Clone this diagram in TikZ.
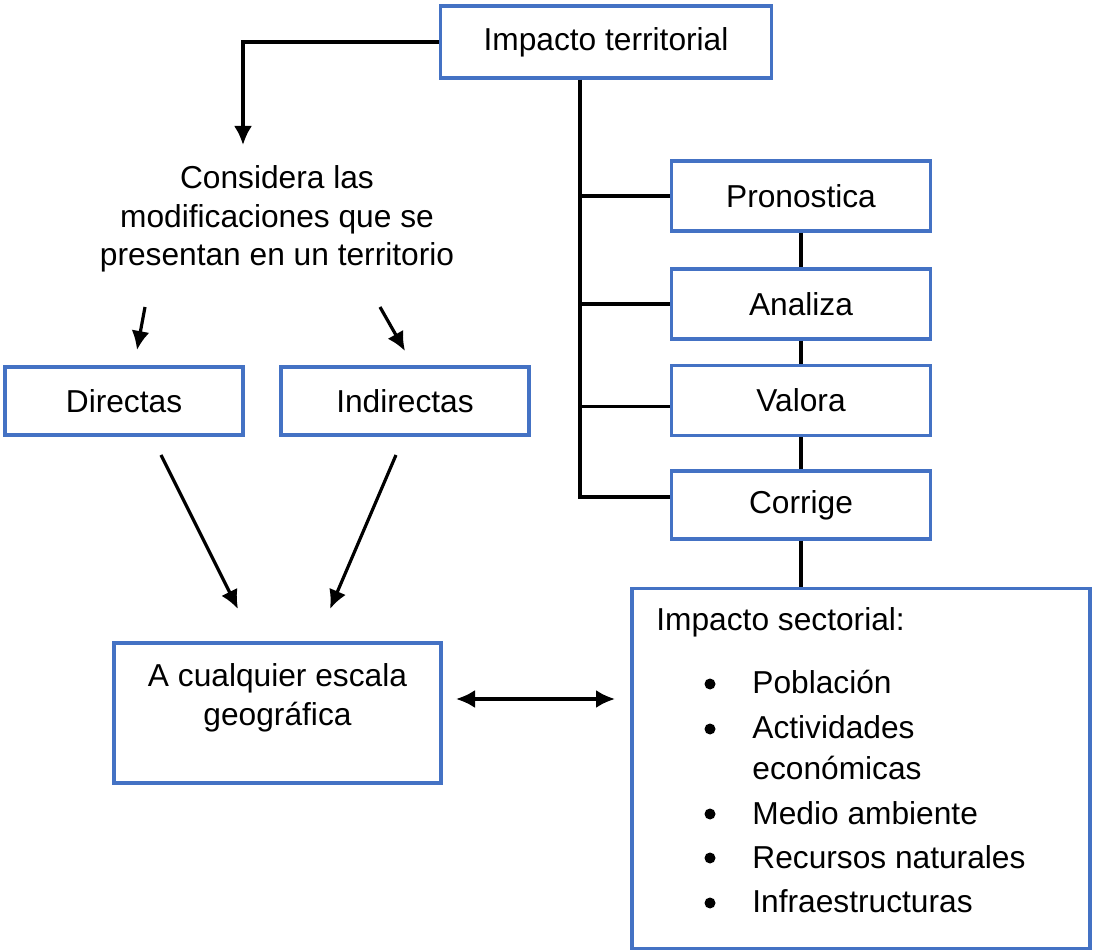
\documentclass[tikz,border=0pt]{standalone}
\usepackage{fontspec}
\setmainfont{Liberation Sans}
\usetikzlibrary{arrows.meta}
\definecolor{azulcaja}{HTML}{4472C4}

\tikzset{
  caja/.style={draw=azulcaja, line width=1.6pt, inner sep=0pt, align=center},
  flecha/.style={-{Latex[length=9.5pt,width=9pt]}, line width=1.6pt},
  dobleflecha/.style={{Latex[length=9.5pt,width=9pt]}-{Latex[length=9.5pt,width=9pt]}, line width=1.6pt},
  linea/.style={line width=1.6pt},
}

\begin{document}
\begin{tikzpicture}[x=0.5pt, y=-0.5pt, font=\fontsize{15.85}{19.3}\selectfont]
    \useasboundingbox (0,0) rectangle (1094,952);

    % caja principal
    \node[caja, minimum width=165.5pt, minimum height=36pt] (terr) at (606,42) {Impacto territorial};

    % texto central y ramas izquierdas
    \node[align=center] (consid) at (277,219) {Considera las\\modificaciones que se\\presentan en un territorio};
    \node[caja, minimum width=119pt, minimum height=34pt] (dir) at (124,401) {Directas};
    \node[caja, minimum width=124pt, minimum height=34pt] (indir) at (405,401) {Indirectas};
    \node[caja, minimum width=163.5pt, minimum height=70pt] (escala) at (277.5,713) {};
    \node[align=center] (escalatxt) at (277.5,698) {A cualquier escala\\geográfica};

    % acciones de la derecha
    \node[caja, minimum width=129.5pt, minimum height=35pt] (pron) at (801,196) {Pronostica};
    \node[caja, minimum width=129.5pt, minimum height=35pt] (anal) at (801,304) {Analiza};
    \node[caja, minimum width=129.5pt, minimum height=35pt] (valo) at (801,400.5) {Valora};
    \node[caja, minimum width=129.5pt, minimum height=34pt] (corr) at (801,505) {Corrige};
    \node[caja, minimum width=229pt, minimum height=180pt] (sect) at (861,768.5) {};

    % contenido del impacto sectorial
    \node[anchor=base west, inner sep=0pt] (secttit) at (656,631) {Impacto sectorial:};
    \foreach \yy in {684,729,814,858,903}
        \fill (710,\yy) circle (5.5);
    \foreach \txt/\yy [count=\i] in {Población/693,Actividades/738,económicas/779,Medio ambiente/824,Recursos naturales/868,Infraestructuras/912}
        \node[anchor=base west, inner sep=0pt] (item\i) at (752,\yy) {\txt};

    % puntos libres de las flechas
    \coordinate (c1) at (243,145);
    \coordinate (d0) at (145,307);
    \coordinate (d1) at (137,350);
    \coordinate (i0) at (380,307);
    \coordinate (i1) at (405,351);
    \coordinate (e0) at (161,455);
    \coordinate (e1) at (238,609);
    \coordinate (f0) at (396,455);
    \coordinate (f1) at (330,609);
    \coordinate (s0) at (456,699);
    \coordinate (s1) at (615,699);

    % flechas
    \draw[flecha] (terr.west) -| (c1);
    \draw[flecha] (d0) -- (d1);
    \draw[flecha] (i0) -- (i1);
    \draw[flecha] (e0) -- (e1);
    \draw[flecha] (f0) -- (f1);
    \draw[dobleflecha] (s0) -- (s1);

    % conectores sin punta
    \draw[linea] ([xshift=-13pt]terr.south) |- ([yshift=4pt]corr.west);
    \draw[linea] ([xshift=-13pt]terr.south |- pron.west) -- (pron.west);
    \draw[linea] ([xshift=-13pt]terr.south |- anal.west) -- (anal.west);
    \draw[linea] ([xshift=-13pt,yshift=-3pt]terr.south |- valo.west) -- ([yshift=-3pt]valo.west);
    \draw[linea] (pron) -- (anal);
    \draw[linea] (anal) -- (valo);
    \draw[linea] (valo) -- (corr);
    \draw[linea] (corr.south) -- (corr.south |- sect.north);
\end{tikzpicture}
\end{document}
